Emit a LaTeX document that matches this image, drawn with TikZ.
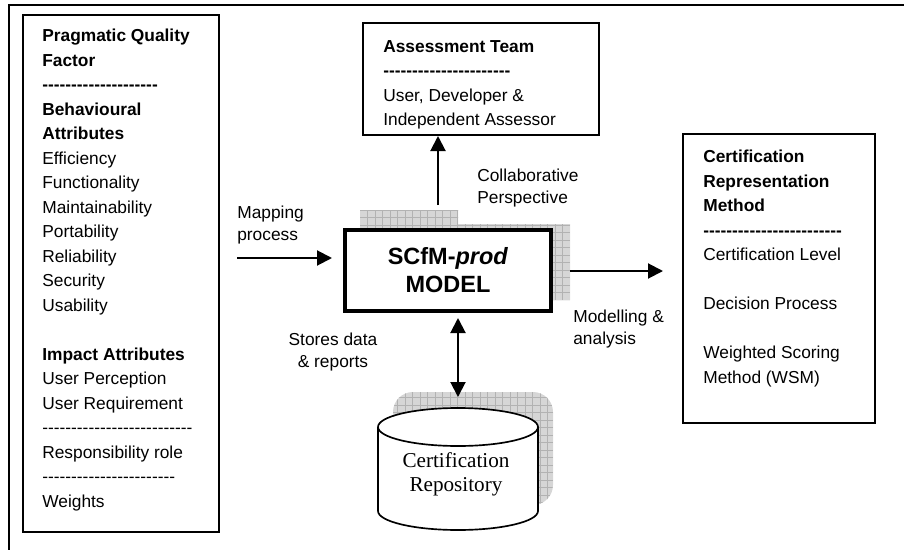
\documentclass[tikz,border=0pt]{standalone}
\usepackage{fontspec}
\setmainfont{Liberation Sans}
\newfontfamily\reposerif{Liberation Serif}
\usetikzlibrary{arrows.meta}

% row of hyphens, kept apart so no dash ligature forms
\newcommand\hyph[1]{\foreach \i in {1,...,#1}{-\kern0pt}}

\begin{document}
\begin{tikzpicture}[x=0.6pt,y=-0.6pt,
  box/.style={draw, line width=1.2pt, anchor=north west, inner sep=0pt},
  boxtext/.style={anchor=north west, inner sep=0pt, align=left, font=\fontsize{10.4}{14.7}\selectfont},
  lbl/.style={inner sep=0pt, align=left, font=\fontsize{10.4}{13.6}\selectfont},
  flow/.style={line width=1.2pt, -{Triangle[length=9pt,width=9pt]}},
  biflow/.style={line width=1.2pt, {Triangle[length=9pt,width=9pt]}-{Triangle[length=9pt,width=9pt]}},
  shade/.style={fill=gray!32},
  shadegrid/.style={draw=gray!60, line width=0.3pt, step=4.5pt}]

\useasboundingbox (0,0) rectangle (904,550);
\draw[line width=0.9pt] (9,550) -- (9,5) -- (904,5);

% left box
\node[box, minimum width=117.6pt, minimum height=310.2pt] (factor) at (22,14) {};
\node[boxtext] (factortext) at (42,29) {\textbf{Pragmatic Quality}\\
  \textbf{Factor}\\
  \textbf{\hyph{20}}\\
  \textbf{Behavioural}\\
  \textbf{Attributes}\\
  Efficiency\\
  Functionality\\
  Maintainability\\
  Portability\\
  Reliability\\
  Security\\
  Usability\\[14.7pt]
  \textbf{Impact Attributes}\\
  User Perception\\
  User Requirement\\
  \hyph{26}\\
  Responsibility role\\
  \hyph{23}\\
  Weights};

% assessment team
\node[box, minimum width=141.6pt, minimum height=67.2pt] (team) at (362,22) {};
\node[boxtext] (teamtext) at (383,40) {\textbf{Assessment Team}\\
  \textbf{\hyph{22}}\\
  User, Developer \&\\
  Independent Assessor};

% certification method
\node[box, minimum width=115.2pt, minimum height=173.4pt] (cert) at (682,133) {};
\node[boxtext] (certtext) at (703,150) {\textbf{Certification}\\
  \textbf{Representation}\\
  \textbf{Method}\\
  \textbf{\hyph{24}}\\
  Certification Level\\[14.7pt]
  Decision Process\\[14.7pt]
  Weighted Scoring\\
  Method (WSM)};

% model shadow
\fill[shade] (360,210) -- (458,210) -- (458,224) -- (570,224) -- (570,300) -- (360,300) -- cycle;
\begin{scope}
  \clip (360,210) -- (458,210) -- (458,224) -- (570,224) -- (570,300) -- (360,300) -- cycle;
  \draw[shadegrid] (360,210) grid (570,300);
\end{scope}
\node[draw, fill=white, line width=2.4pt, minimum width=123.6pt, minimum height=48.6pt,
  align=center, font=\bfseries\fontsize{14.1}{16.8}\selectfont] (model) at (448,270.5)
  {SCfM-\textit{prod}\\MODEL};

% repository
\fill[shade, rounded corners=12pt] (393,392) rectangle (553,505);
\begin{scope}
  \clip[rounded corners=12pt] (393,392) rectangle (553,505);
  \draw[shadegrid] (393,392) grid (553,505);
\end{scope}
\filldraw[fill=white, line width=1pt] (378,427) -- (378,511)
  arc[start angle=180, end angle=0, x radius=80, y radius=19] -- (538,427);
\filldraw[fill=white, line width=1pt] (458,427) ellipse[x radius=80, y radius=19];
\node[align=center, font=\reposerif\fontsize{12.7}{14.4}\selectfont] (repo) at (456,474)
  {Certification\\Repository};
\coordinate (repotop) at (458,408);

% connectors
\coordinate (mapin) at (237,258);
\draw[flow, shorten >=6.6pt] (mapin) -- (mapin -| model.west);
\coordinate (collab) at (438,205);
\draw[flow] (collab) -- (collab |- team.south);
\coordinate (modelout) at (570,271);
\draw[flow, shorten >=11.4pt] (modelout) -- (modelout -| cert.west);
\draw[biflow, shorten <=3pt, shorten >=6.6pt] (model.south -| repotop) -- (repotop);

% labels
\node[lbl, anchor=west] (maplbl) at (237,225) {Mapping\\process};
\node[lbl, anchor=west] (collablbl) at (477,188) {Collaborative\\Perspective};
\node[lbl, align=center] (storelbl) at (333,352) {Stores data\\\& reports};
\node[lbl, anchor=west] (modlbl) at (573,329) {Modelling \&\\analysis};
\end{tikzpicture}
\end{document}
